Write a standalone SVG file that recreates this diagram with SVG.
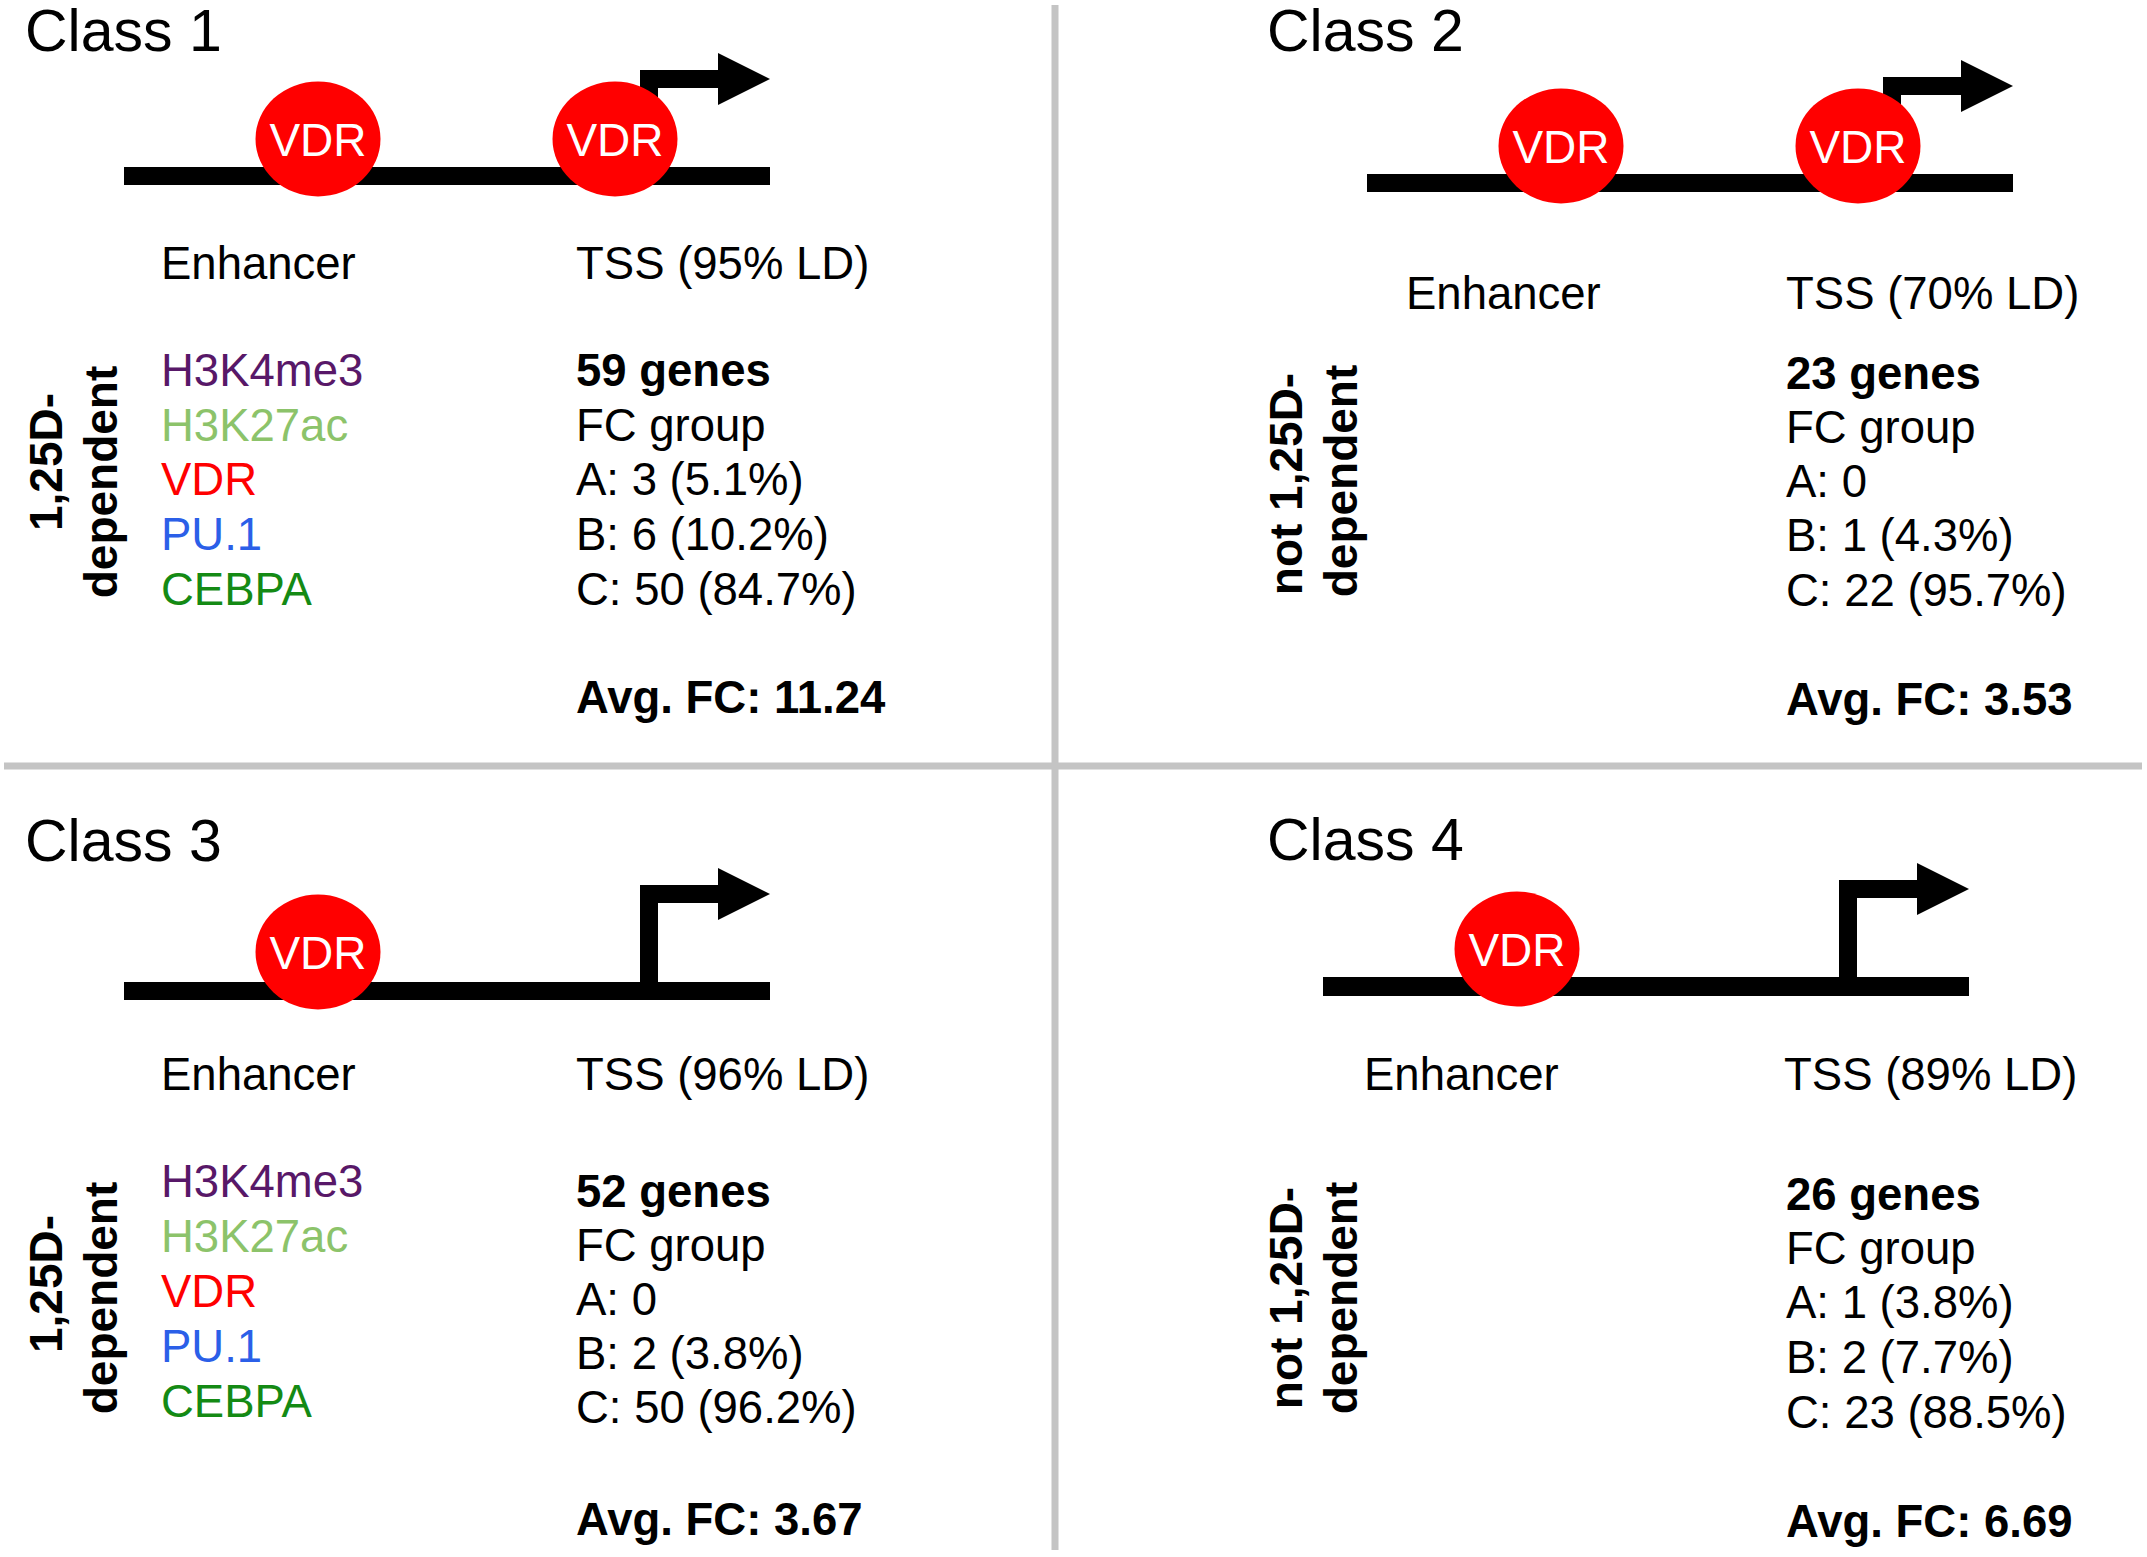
<svg xmlns="http://www.w3.org/2000/svg" width="2147" height="1557" viewBox="0 0 2147 1557">
<style>
text{font-family:"Liberation Sans",Arial,sans-serif;font-size:45.5px;fill:#000}
.title{font-size:59px}
.b{font-weight:bold}
.rot{font-weight:bold;font-size:46px;text-anchor:middle}
.vdrlbl{fill:#fff;font-size:46px;text-anchor:middle}
.vdr{fill:#ff0000}
.dna{fill:#000}
.div{stroke:#c4c4c4;stroke-width:7;fill:none}
.m1{fill:#581868}
.m2{fill:#8cc36a}
.m3{fill:#ff0000}
.m4{fill:#2b5fe8}
.m5{fill:#148a14}
</style>
<rect width="2147" height="1557" fill="#fff"/>
<g id="dividers">
<line class="div" x1="1055" y1="5" x2="1055" y2="1550"/>
<line class="div" x1="4" y1="766" x2="2142" y2="766"/>
</g>
<g id="connectors">
<path class="dna" d="M640,176 L640,70 L718,70 L718,53 L770,79 L718,105 L718,88 L658,88 L658,176 Z"/>
<path class="dna" d="M1883,183 L1883,77 L1961,77 L1961,60 L2013,86 L1961,112 L1961,95 L1901,95 L1901,183 Z"/>
<path class="dna" d="M640,991 L640,885 L718,885 L718,868 L770,894 L718,920 L718,903 L658,903 L658,991 Z"/>
<path class="dna" d="M1839,986 L1839,880 L1917,880 L1917,863 L1969,889 L1917,915 L1917,898 L1857,898 L1857,986 Z"/>
</g>
<g id="class1">
<text class="title" x="25" y="51">Class 1</text>
<rect class="dna" x="124" y="167" width="646" height="18"/>
<g id="c1-vdr-enh"><ellipse class="vdr" cx="318" cy="139" rx="62.5" ry="57.5"/><text class="vdrlbl" x="318" y="156">VDR</text></g>
<g id="c1-vdr-tss"><ellipse class="vdr" cx="615" cy="139" rx="62.5" ry="57.5"/><text class="vdrlbl" x="615" y="156">VDR</text></g>
<text x="161" y="279">Enhancer</text>
<text x="576" y="279">TSS (95% LD)</text>
<text class="rot" transform="translate(62,462) rotate(-90)">1,25D-</text>
<text class="rot" transform="translate(117,482) rotate(-90)">dependent</text>
<text class="m1" x="161" y="386">H3K4me3</text>
<text class="m2" x="161" y="441">H3K27ac</text>
<text class="m3" x="161" y="495">VDR</text>
<text class="m4" x="161" y="550">PU.1</text>
<text class="m5" x="161" y="605">CEBPA</text>
<text class="b" x="576" y="386">59 genes</text>
<text x="576" y="441">FC group</text>
<text x="576" y="495">A: 3 (5.1%)</text>
<text x="576" y="550">B: 6 (10.2%)</text>
<text x="576" y="605">C: 50 (84.7%)</text>
<text class="b" x="576" y="713">Avg. FC: 11.24</text>
</g>
<g id="class2">
<text class="title" x="1267" y="51">Class 2</text>
<rect class="dna" x="1367" y="174" width="646" height="18"/>
<g id="c2-vdr-enh"><ellipse class="vdr" cx="1561" cy="146" rx="62.5" ry="57.5"/><text class="vdrlbl" x="1561" y="163">VDR</text></g>
<g id="c2-vdr-tss"><ellipse class="vdr" cx="1858" cy="146" rx="62.5" ry="57.5"/><text class="vdrlbl" x="1858" y="163">VDR</text></g>
<text x="1406" y="309">Enhancer</text>
<text x="1786" y="309">TSS (70% LD)</text>
<text class="rot" transform="translate(1302,484) rotate(-90)">not 1,25D-</text>
<text class="rot" transform="translate(1357,481) rotate(-90)">dependent</text>
<text class="b" x="1786" y="389">23 genes</text>
<text x="1786" y="443">FC group</text>
<text x="1786" y="497">A: 0</text>
<text x="1786" y="551">B: 1 (4.3%)</text>
<text x="1786" y="606">C: 22 (95.7%)</text>
<text class="b" x="1786" y="715">Avg. FC: 3.53</text>
</g>
<g id="class3">
<text class="title" x="25" y="861">Class 3</text>
<rect class="dna" x="124" y="982" width="646" height="18"/>
<g id="c3-vdr-enh"><ellipse class="vdr" cx="318" cy="952" rx="62.5" ry="57.5"/><text class="vdrlbl" x="318" y="969">VDR</text></g>
<text x="161" y="1090">Enhancer</text>
<text x="576" y="1090">TSS (96% LD)</text>
<text class="rot" transform="translate(62,1284) rotate(-90)">1,25D-</text>
<text class="rot" transform="translate(117,1298) rotate(-90)">dependent</text>
<text class="m1" x="161" y="1197">H3K4me3</text>
<text class="m2" x="161" y="1252">H3K27ac</text>
<text class="m3" x="161" y="1307">VDR</text>
<text class="m4" x="161" y="1362">PU.1</text>
<text class="m5" x="161" y="1417">CEBPA</text>
<text class="b" x="576" y="1207">52 genes</text>
<text x="576" y="1261">FC group</text>
<text x="576" y="1315">A: 0</text>
<text x="576" y="1369">B: 2 (3.8%)</text>
<text x="576" y="1423">C: 50 (96.2%)</text>
<text class="b" x="576" y="1535">Avg. FC: 3.67</text>
</g>
<g id="class4">
<text class="title" x="1267" y="860">Class 4</text>
<rect class="dna" x="1323" y="977" width="646" height="19"/>
<g id="c4-vdr-enh"><ellipse class="vdr" cx="1517" cy="949" rx="62.5" ry="57.5"/><text class="vdrlbl" x="1517" y="966">VDR</text></g>
<text x="1364" y="1090">Enhancer</text>
<text x="1784" y="1090">TSS (89% LD)</text>
<text class="rot" transform="translate(1302,1298) rotate(-90)">not 1,25D-</text>
<text class="rot" transform="translate(1357,1298) rotate(-90)">dependent</text>
<text class="b" x="1786" y="1210">26 genes</text>
<text x="1786" y="1264">FC group</text>
<text x="1786" y="1318">A: 1 (3.8%)</text>
<text x="1786" y="1373">B: 2 (7.7%)</text>
<text x="1786" y="1428">C: 23 (88.5%)</text>
<text class="b" x="1786" y="1537">Avg. FC: 6.69</text>
</g>
</svg>
